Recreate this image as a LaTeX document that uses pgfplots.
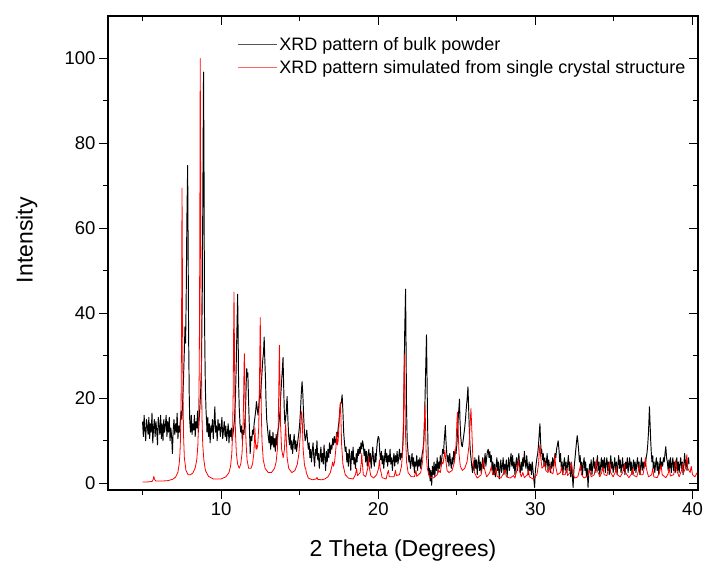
\documentclass[border=0pt]{standalone}
\usepackage{fontspec}
\setmainfont{Liberation Sans}
\usepackage{pgfplots}
\pgfplotsset{compat=1.18}
\definecolor{legblack}{RGB}{85,85,85}
\definecolor{legred}{RGB}{255,100,100}
\begin{document}
\begin{tikzpicture}
\pgfplotsset{
  myaxis/.style={
    width=590pt, height=474pt, scale only axis,
    xmin=2.8, xmax=40.35, ymin=-1.6, ymax=110,
    xtick={10,20,30,40}, minor xtick={5,15,25,35},
    ytick={0,20,40,60,80,100}, minor ytick={10,30,50,70,90},
    major tick length=9pt, minor tick length=5pt,
    axis line style={line width=1.3pt},
    every tick/.style={line width=1.1pt, black},
    every minor tick/.style={line width=1.1pt, black},
    /pgf/number format/assume math mode=true,
    tick label style={font=\fontsize{18.5}{20}\selectfont},
  }
}
\begin{axis}[myaxis,
  tick align=outside, xtick pos=left, ytick pos=left,
  xlabel={2 Theta (Degrees)}, ylabel={Intensity},
  label style={font=\fontsize{23}{26}\selectfont},
  x label style={at={(axis description cs:0.5,-0.127)}, anchor=center},
  y label style={at={(axis description cs:-0.138,0.527)}, anchor=center},
  legend style={draw=none, fill=none, at={(axis description cs:0.219,0.960)}, anchor=north west,
    font=\fontsize{18}{20}\selectfont, row sep=4.5pt, inner sep=0pt, cells={anchor=west}},
  legend cell align=left,
  legend image code/.code={\draw[#1] (0pt,0pt) -- (39pt,0pt);},
]
\addplot[black, line width=0.95pt, line join=round, forget plot] coordinates {
(5.00,14.5)(5.05,11)(5.10,16)(5.15,12.5)(5.20,10)(5.25,15)(5.30,13.5)(5.35,11.5)(5.40,15.5)(5.45,10.5)
(5.50,14)(5.55,12)(5.60,16.5)(5.65,9.5)(5.70,13)(5.75,15)(5.80,11)(5.85,14.5)(5.90,12.5)(5.95,9)
(6.00,15.5)(6.05,13.5)(6.10,11.5)(6.15,16)(6.20,10.5)(6.25,14)(6.30,10)(6.35,15)(6.40,12)(6.45,13.5)
(6.50,16)(6.55,11)(6.60,14.5)(6.65,12)(6.70,15.5)(6.75,10)(6.80,13)(6.85,11)(6.90,7)(6.95,12.5)
(7.00,15)(7.05,11.5)(7.10,14)(7.15,12)(7.20,16.5)(7.25,10.5)(7.30,13.5)(7.35,12)(7.40,14.5)(7.45,17)
(7.50,15)(7.55,19)(7.60,24)(7.65,30)(7.70,36.8)(7.74,33)(7.78,45)(7.82,62)(7.87,74.8)(7.90,55)
(7.93,35)(7.97,21)(8.00,15)(8.05,12)(8.10,16)(8.15,11.5)(8.20,14)(8.25,12.5)(8.30,16)(8.35,11)
(8.40,14.5)(8.45,13)(8.50,17)(8.55,12)(8.60,15)(8.65,18)(8.70,22)(8.75,28)(8.80,45)(8.84,70)
(8.88,96.8)(8.91,75)(8.94,40)(8.97,30)(9.00,22)(9.04,17)(9.08,14)(9.10,12)(9.15,15.5)(9.20,11)
(9.25,14)(9.30,9.5)(9.35,13.5)(9.40,12)(9.45,15)(9.50,10.5)(9.55,14)(9.60,18)(9.65,12)(9.70,13.5)
(9.75,10)(9.80,15)(9.85,12.5)(9.90,14)(9.95,11)(10.00,13)(10.05,15.5)(10.10,10.5)(10.15,12.5)(10.20,14.5)
(10.25,11)(10.30,13.5)(10.35,10)(10.40,12)(10.45,14)(10.50,9.5)(10.55,12.5)(10.60,11)(10.65,13)(10.70,10)
(10.75,11.5)(10.80,13)(10.85,15)(10.90,19)(10.95,26)(11.00,35)(11.05,44.5)(11.08,36)(11.11,24)(11.15,18)
(11.20,14)(11.25,12)(11.30,13.5)(11.35,10)(11.40,12.5)(11.45,11.5)(11.50,14)(11.55,17)(11.60,24)(11.63,27)
(11.67,25)(11.70,26)(11.75,19)(11.80,13)(11.85,7)(11.90,11)(11.95,10)(12.00,12.5)(12.05,11.5)(12.10,14)
(12.15,15.5)(12.20,17)(12.25,19.2)(12.30,17.5)(12.35,16)(12.40,18.5)(12.45,21)(12.50,20)(12.55,23)(12.60,26)
(12.65,29)(12.70,31)(12.74,34.4)(12.78,29)(12.82,25)(12.86,19)(12.90,15)(12.95,13)(13.00,11)(13.05,9.5)
(13.10,12.5)(13.15,8)(13.20,11)(13.25,9)(13.30,12)(13.35,8.5)(13.40,10.5)(13.45,7.5)(13.50,11.5)(13.55,9)
(13.60,12)(13.65,13)(13.70,15)(13.75,17)(13.80,21)(13.85,24)(13.90,27)(13.94,29.6)(13.98,23)(14.02,17)
(14.06,14)(14.10,15)(14.15,17)(14.20,20.4)(14.25,15)(14.30,11)(14.35,9)(14.40,11.5)(14.45,8)(14.50,10)
(14.55,7)(14.60,9.5)(14.65,11.5)(14.70,8)(14.75,10)(14.80,7.5)(14.85,9)(14.90,10.5)(14.95,12)(15.00,14)
(15.05,17)(15.10,21)(15.15,23.9)(15.20,21)(15.25,16)(15.30,12)(15.35,10)(15.40,11)(15.45,12.5)(15.50,10)
(15.55,8)(15.60,9.5)(15.65,6)(15.70,8)(15.75,5)(15.80,7.5)(15.85,9.5)(15.90,6)(15.95,4)(16.00,8)
(16.05,6.5)(16.10,10)(16.15,5.5)(16.20,7)(16.25,3.5)(16.30,6.5)(16.35,8.5)(16.40,5)(16.45,7)(16.50,4.5)
(16.55,9)(16.60,6)(16.65,3)(16.70,7.5)(16.75,5)(16.80,8)(16.85,6)(16.90,9.5)(16.95,7)(17.00,9)
(17.05,8)(17.10,10.5)(17.15,9)(17.20,11)(17.25,9.5)(17.30,10)(17.35,12)(17.40,11)(17.45,13)(17.50,14.5)
(17.55,17)(17.60,18.5)(17.65,19)(17.70,20.8)(17.75,17)(17.80,12)(17.85,9.5)(17.90,7.5)(17.95,8.5)(18.00,5)
(18.05,7)(18.10,4)(18.15,8)(18.20,6)(18.25,3)(18.30,7.5)(18.35,5.5)(18.40,8.5)(18.45,4.5)(18.50,6)
(18.55,3.5)(18.60,7)(18.65,5)(18.70,8)(18.75,6.5)(18.80,8.5)(18.85,7)(18.90,9.5)(18.95,8)(19.00,10)
(19.05,9)(19.10,6.5)(19.15,8)(19.20,5)(19.25,7.5)(19.30,4)(19.35,6.5)(19.40,8)(19.45,5)(19.50,7)
(19.55,3.5)(19.60,6)(19.65,8.5)(19.70,5.5)(19.75,4)(19.80,7)(19.85,5)(19.90,8)(19.95,10)(20.00,11)
(20.05,10.5)(20.10,7)(20.15,5.5)(20.20,7.5)(20.25,4.5)(20.30,6.5)(20.35,3.5)(20.40,6)(20.45,8)(20.50,5)
(20.55,7)(20.60,4)(20.65,6.5)(20.70,5)(20.75,8)(20.80,4.5)(20.85,6)(20.90,3)(20.95,5.5)(21.00,7)
(21.05,4)(21.10,6.5)(21.15,5)(21.20,7.5)(21.25,4.5)(21.30,6)(21.35,8)(21.40,5.5)(21.45,7)(21.50,6)
(21.55,8)(21.60,12)(21.64,22)(21.68,35)(21.74,45.7)(21.77,32)(21.80,18)(21.84,10)(21.90,7)(21.95,5)
(22.00,6.5)(22.05,3.5)(22.10,5)(22.15,7)(22.20,4)(22.25,6)(22.30,2.5)(22.35,5)(22.40,4)(22.45,6.5)
(22.50,3)(22.55,5.5)(22.60,4)(22.65,6)(22.70,3.5)(22.75,5.5)(22.80,7)(22.85,8)(22.90,10)(22.95,15)
(23.00,24)(23.04,30)(23.07,34.9)(23.10,26)(23.14,14)(23.18,6)(23.22,2)(23.26,3.5)(23.30,0.5)(23.35,3)
(23.40,-0.5)(23.45,4)(23.50,2)(23.55,5)(23.60,1.5)(23.65,4.5)(23.70,3)(23.75,6)(23.80,2.5)(23.85,5)
(23.90,3.5)(23.95,6.5)(24.00,4)(24.05,6)(24.10,8)(24.15,7)(24.20,10)(24.24,12)(24.27,13.6)(24.31,10)
(24.35,7.5)(24.40,5)(24.45,6.5)(24.50,4)(24.55,7)(24.60,5)(24.65,3.5)(24.70,6)(24.75,4.5)(24.80,7.5)
(24.85,5.5)(24.90,8)(24.95,7)(25.00,9)(25.05,12)(25.10,16)(25.14,18)(25.17,19.8)(25.20,15)(25.25,11)
(25.30,9)(25.35,8.6)(25.40,10)(25.45,11.5)(25.50,13)(25.55,15)(25.60,17.5)(25.65,19.5)(25.71,22.7)(25.75,18)
(25.80,12)(25.85,8)(25.90,6)(25.95,4)(26.00,2.5)(26.05,5)(26.10,3)(26.15,6)(26.20,3.5)(26.25,5.5)
(26.30,2)(26.35,4.5)(26.40,6.5)(26.45,3)(26.50,5)(26.55,2.5)(26.60,4.5)(26.65,6)(26.70,3.5)(26.75,5)
(26.80,7)(26.85,4)(26.90,6)(26.95,7.5)(27.00,8)(27.05,6)(27.10,7.5)(27.15,5)(27.20,6.5)(27.25,3)
(27.30,5)(27.35,2)(27.40,4.5)(27.45,1.5)(27.50,4)(27.55,6)(27.60,3)(27.65,5)(27.70,1)(27.75,3.5)
(27.80,5.5)(27.85,2.5)(27.90,4)(27.95,6)(28.00,2)(28.05,4.5)(28.10,3)(28.15,5.5)(28.20,1.5)(28.25,4)
(28.30,6)(28.35,3)(28.40,5)(28.45,7)(28.50,4)(28.55,6.5)(28.60,3.5)(28.65,5)(28.70,2)(28.75,4.5)
(28.80,6)(28.85,3)(28.90,5.5)(28.95,7)(29.00,4)(29.05,2.5)(29.10,5)(29.15,3)(29.20,6)(29.25,4)
(29.30,7.5)(29.35,5)(29.40,3.5)(29.45,6.5)(29.50,4)(29.55,2)(29.60,5)(29.65,3)(29.70,4.5)(29.75,2)
(29.80,5)(29.85,3)(29.90,1)(29.95,-1)(30.00,3)(30.05,4.5)(30.10,6)(30.15,7)(30.20,9)(30.25,12)
(30.29,14)(30.33,10)(30.37,7)(30.40,8)(30.45,5.5)(30.50,7)(30.55,4)(30.60,6)(30.65,3.5)(30.70,5)
(30.75,7)(30.80,3)(30.85,5.5)(30.90,4)(30.95,2.5)(31.00,5)(31.05,3.5)(31.10,6)(31.15,4)(31.20,5.5)
(31.25,7)(31.30,6)(31.35,8)(31.40,9)(31.45,10)(31.50,8)(31.55,5)(31.60,7)(31.65,3.5)(31.70,5)
(31.75,2)(31.80,4.5)(31.85,6)(31.90,3)(31.95,5)(32.00,2.5)(32.05,4.5)(32.10,6.5)(32.15,3)(32.20,5)
(32.25,1.5)(32.30,4)(32.35,2)(32.40,-1)(32.45,3)(32.50,5)(32.55,7)(32.60,9)(32.66,11.2)(32.70,10)
(32.75,8)(32.80,5)(32.85,6.5)(32.90,3)(32.95,5)(33.00,2)(33.05,4.5)(33.10,6)(33.15,3)(33.20,5)
(33.25,1.5)(33.30,3.5)(33.35,-1)(33.40,2.5)(33.45,4.5)(33.50,3)(33.55,5.5)(33.60,2)(33.65,4)(33.70,6)
(33.75,3.5)(33.80,5)(33.85,2.5)(33.90,4.5)(33.95,6.5)(34.00,3)(34.05,5)(34.10,2)(34.15,4)(34.20,6)
(34.25,3)(34.30,5.5)(34.35,3.5)(34.40,6)(34.45,2.5)(34.50,4.5)(34.55,6)(34.60,3)(34.65,5)(34.70,2)
(34.75,4.5)(34.80,6.5)(34.85,3.5)(34.90,5)(34.95,2.5)(35.00,4)(35.05,6)(35.10,3)(35.15,5)(35.20,2)
(35.25,4.5)(35.30,6.5)(35.35,3.5)(35.40,5.5)(35.45,2.5)(35.50,4)(35.55,6)(35.60,3)(35.65,4.5)(35.70,2)
(35.75,5)(35.80,3.5)(35.85,6)(35.90,2.5)(35.95,4.5)(36.00,6)(36.05,3)(36.10,5)(36.15,2)(36.20,4)
(36.25,5.5)(36.30,3)(36.35,5)(36.40,2.5)(36.45,4.5)(36.50,6)(36.55,3.5)(36.60,5)(36.65,2)(36.70,4)
(36.75,6)(36.80,3)(36.85,5)(36.90,3.5)(36.95,5)(37.00,4)(37.05,6)(37.10,7)(37.15,9)(37.20,12)
(37.26,18)(37.30,14)(37.34,10)(37.38,7)(37.42,5)(37.47,6.5)(37.50,3.5)(37.55,5)(37.60,2.5)(37.65,4.5)
(37.70,6)(37.75,3)(37.80,5)(37.85,2)(37.90,4)(37.95,6)(38.00,3.5)(38.05,5)(38.10,4)(38.15,6)
(38.20,5)(38.25,7)(38.30,8.6)(38.35,6)(38.40,5)(38.45,3)(38.50,5.5)(38.55,3.5)(38.60,6)(38.65,2.5)
(38.70,4.5)(38.75,6)(38.80,3)(38.85,5)(38.90,2.5)(38.95,4)(39.00,6)(39.05,3)(39.10,5)(39.15,2.5)
(39.20,4.5)(39.25,6)(39.30,3.5)(39.35,5)(39.40,2)(39.45,4.5)(39.50,7)(39.55,4)(39.60,5.5)(39.65,3)
(39.70,5)(39.75,6)(39.78,4.5)
};
\addlegendimage{legblack, line width=1pt}
\addlegendentry{XRD pattern of bulk powder}
\addplot[red, line width=0.8pt, line join=round, forget plot] coordinates {
(5.0,0.3)(5.3,0.3)(5.6,0.4)(5.68,0.9)(5.72,1.6)(5.76,0.9)(5.85,0.5)(6.2,0.5)(6.6,0.6)(6.9,0.9)
(7.1,1.4)(7.25,2.6)(7.33,4.5)(7.38,7)(7.41,10)(7.45,18)(7.48,35)(7.5,58)(7.51,69.5)(7.53,55)
(7.55,35)(7.58,19)(7.61,11)(7.66,6)(7.76,3)(7.9,2)(8.05,2)(8.2,2.4)(8.35,3.6)(8.45,5.5)
(8.52,9)(8.57,15)(8.61,28)(8.64,55)(8.66,85)(8.67,100)(8.69,80)(8.71,55)(8.74,30)(8.78,16)
(8.83,9)(8.9,5.5)(9.0,3)(9.2,1.6)(9.5,1)(10.0,1)(10.3,1.5)(10.5,2.5)(10.6,4)(10.68,7)
(10.73,12)(10.77,22)(10.8,38)(10.82,45)(10.84,36)(10.87,22)(10.91,12)(10.97,7)(11.05,4.5)(11.15,3.5)
(11.25,4.5)(11.33,7)(11.39,12)(11.43,20)(11.46,28)(11.48,30.5)(11.5,27)(11.53,18)(11.58,10)(11.65,5.5)
(11.75,3.5)(11.9,3.5)(12.0,4.5)(12.08,7)(12.12,10)(12.15,13)(12.18,10)(12.22,8)(12.25,9)(12.28,8)
(12.33,9)(12.39,13)(12.43,20)(12.46,30)(12.49,39)(12.52,30)(12.55,18)(12.6,10)(12.68,5.5)(12.8,3.5)
(13.0,2.5)(13.2,2.5)(13.4,3.5)(13.5,5)(13.58,8)(13.63,13)(13.67,22)(13.7,31)(13.71,32.5)(13.74,25)
(13.78,14)(13.85,8)(13.95,6)(14.03,8)(14.08,12)(14.11,14)(14.14,11)(14.2,6)(14.3,3.5)(14.5,2.5)
(14.7,3)(14.85,4.5)(14.95,7)(15.03,11)(15.09,15)(15.13,17)(15.17,14)(15.22,8)(15.3,4.5)(15.35,3.5)
(15.38,3.6)(15.42,2.5)(15.55,1.2)(15.8,0.8)(16.05,1)(16.1,1.4)(16.15,0.9)(16.4,0.8)(16.6,1.0)(16.8,1.5)
(16.95,2.5)(17.05,4)(17.1,5)(17.15,4)(17.22,5)(17.3,8)(17.36,12)(17.4,9)(17.45,10)(17.52,15)
(17.57,18.5)(17.59,19)(17.62,16)(17.67,9)(17.75,4.5)(17.9,2)(18.1,1.2)(18.4,1)(18.55,2)(18.62,3.5)
(18.68,1.8)(18.85,2.5)(18.92,5)(18.95,7)(18.98,5)(19.05,2)(19.2,1.5)(19.33,3.5)(19.38,6.4)(19.42,4)
(19.52,1.8)(19.7,1.2)(19.9,2)(20.02,3.5)(20.08,5.5)(20.12,3.5)(20.25,1.3)(20.5,1)(20.6,2.5)(20.65,3)
(20.7,1.5)(21.0,1.5)(21.1,3)(21.15,1.8)(21.35,2)(21.48,4)(21.56,8)(21.61,16)(21.64,26)(21.66,30.4)
(21.69,24)(21.73,12)(21.8,5)(21.9,2.5)(22.1,1.5)(22.3,1.5)(22.4,3)(22.45,1.6)(22.7,2.5)(22.82,5)
(22.89,9)(22.94,15)(22.97,18.4)(23.0,15)(23.05,7)(23.12,3.5)(23.25,1.5)(23.5,1.2)(23.75,2)(23.85,3)
(23.95,2.5)(24.05,5)(24.12,4.5)(24.2,6.5)(24.24,7.8)(24.28,6)(24.38,3)(24.5,2.5)(24.7,3)(24.85,5)
(24.95,9)(25.0,14)(25.04,16.7)(25.08,13)(25.14,7)(25.22,4)(25.35,3)(25.5,3.5)(25.65,5)(25.78,9)
(25.85,14)(25.9,17.6)(25.95,13)(26.02,6)(26.12,2.5)(26.3,1.2)(26.55,2)(26.65,4.5)(26.7,5.5)(26.75,3.5)
(26.9,1.5)(27.1,2.5)(27.2,4)(27.28,2)(27.45,2.5)(27.5,3.5)(27.56,1.6)(27.8,1.2)(28.0,2.5)(28.08,3.2)
(28.15,1.5)(28.4,1.2)(28.6,1.8)(28.7,1.2)(28.85,3.5)(28.92,5.5)(28.98,3)(29.1,1.5)(29.2,2.5)(29.3,1.3)
(29.5,2)(29.56,3.1)(29.62,1.5)(29.85,1)(30.1,2)(30.2,4.5)(30.26,8)(30.29,9)(30.33,6.5)(30.42,3.5)
(30.52,4)(30.6,5)(30.66,3)(30.8,2.5)(30.88,3.5)(30.93,4.3)(31.0,2.5)(31.12,2.2)(31.2,4.5)(31.24,6.7)
(31.29,4)(31.4,2)(31.6,2.5)(31.67,3.9)(31.74,2)(31.9,2)(31.98,3.5)(32.05,1.8)(32.2,2.5)(32.3,5)
(32.37,2.5)(32.5,1.2)(32.7,1.5)(32.8,3)(32.87,4.3)(32.94,2)(33.1,1.2)(33.35,1.8)(33.46,3.1)(33.55,1.5)
(33.75,2)(33.83,4)(33.88,5.5)(33.94,3)(34.1,1.5)(34.22,2.5)(34.3,3.9)(34.37,2)(34.55,1.8)(34.65,3.5)
(34.72,5)(34.79,2.5)(34.95,1.5)(35.08,2.5)(35.15,3.9)(35.22,2)(35.4,1.5)(35.55,2.5)(35.62,3.5)(35.67,4.7)
(35.74,2.5)(35.95,1.3)(36.12,2.2)(36.2,3.5)(36.27,1.8)(36.45,1.5)(36.55,2.8)(36.62,4.3)(36.69,2)(36.85,2)
(36.94,4)(37.0,6)(37.06,3.5)(37.2,1.5)(37.4,2)(37.47,3.5)(37.54,1.5)(37.75,1.3)(37.9,2.5)(38.0,4.3)
(38.07,2)(38.3,1.3)(38.45,2.2)(38.52,3.5)(38.59,1.7)(38.8,2)(38.88,4)(38.94,5.5)(39.0,3)(39.15,1.5)
(39.3,3)(39.37,4.7)(39.43,2.5)(39.55,3.5)(39.64,6.7)(39.7,3.5)(39.85,2.5)(39.92,4)(40.0,2)(40.15,1.5)
(40.3,2.5)
};
\addlegendimage{legred, line width=1pt}
\addlegendentry{XRD pattern simulated from single crystal structure}
\end{axis}
\begin{axis}[myaxis, tick align=inside, xtick pos=right, ytick pos=right,
  xticklabels={}, yticklabels={}]
\end{axis}
\pgfresetboundingbox
\path ([xshift=-108pt,yshift=-77pt]current axis.south west) rectangle ([xshift=9pt,yshift=16pt]current axis.north east);
\end{tikzpicture}
\end{document}
